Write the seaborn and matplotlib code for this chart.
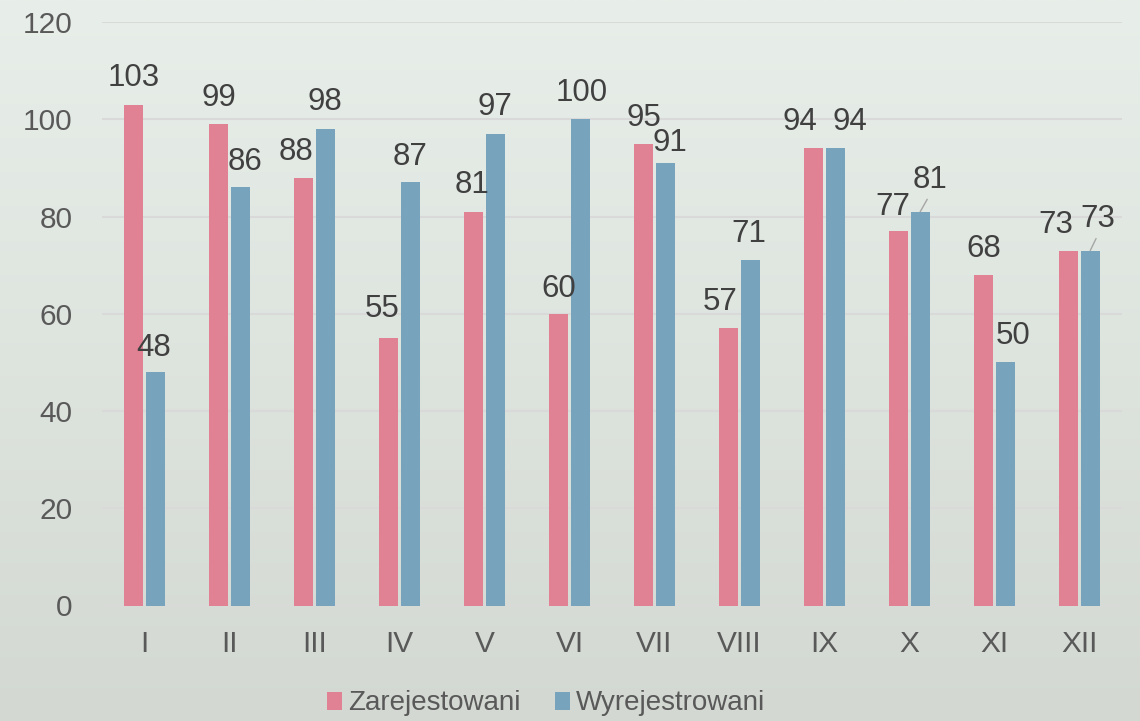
import numpy as np
import pandas as pd
import matplotlib
matplotlib.use("Agg")
import matplotlib.pyplot as plt
import seaborn as sns
from matplotlib.colors import LinearSegmentedColormap
from matplotlib.patches import Patch

# ---- data ----
months = ["I", "II", "III", "IV", "V", "VI", "VII", "VIII", "IX", "X", "XI", "XII"]
zarejestowani = [103, 99, 88, 55, 81, 60, 95, 57, 94, 77, 68, 73]
wyrejestrowani = [48, 86, 98, 87, 97, 100, 91, 71, 94, 81, 50, 73]
series_names = ["Zarejestowani", "Wyrejestrowani"]
y_ticks = [0, 20, 40, 60, 80, 100, 120]

# ---- styling ----
colors = {"Zarejestowani": "#E18294", "Wyrejestrowani": "#77A3BD"}
# label nudges in pixels (dx, height of label centre above bar top)
pink_offsets = [(0, 29.5), (0, 29), (-8, 29), (-7, 32), (-2, 30), (0, 28),
                (0, 29), (-9, 30), (-13.5, 29.7), (-5.5, 27), (0, 29), (-12.5, 29)]
blue_offsets = [(-1.5, 27), (5, 29), (0, 30), (0, 29), (0, 30), (1, 29),
                (4.5, 23.5), (-1.5, 29.6), (15, 29.7), (9.5, 35), (7.5, 29.6), (8, 34.7)]
leader = {1: [9, 11]}  # blue series: bars with leader lines

sns.set_theme(style="white")
plt.rcParams["font.family"] = ["Liberation Sans", "DejaVu Sans"]

W, H = 1140, 721
fig = plt.figure(figsize=(W / 100, H / 100), dpi=100)

bg = fig.add_axes([0, 0, 1, 1], zorder=-10)
grad = np.linspace(0, 1, 256).reshape(-1, 1)
cmap = LinearSegmentedColormap.from_list("bg", ["#E8EEE9", "#D3D9D2"])
bg.imshow(grad, aspect="auto", cmap=cmap, extent=[0, 1, 0, 1], origin="upper")
bg.axis("off")

ax = fig.add_axes([102 / W, 1 - 605.5 / H, 1020 / W, (605.5 - 22) / H])
ax.set_facecolor("none")

df = pd.DataFrame({
    "month": months * 2,
    "value": zarejestowani + wyrejestrowani,
    "series": [series_names[0]] * len(months) + [series_names[1]] * len(months),
})
sns.barplot(data=df, x="month", y="value", hue="series", order=months,
            hue_order=series_names, palette=colors, width=0.506, gap=0.116,
            saturation=1, linewidth=0, edgecolor="none", ax=ax, legend=False)

ax.set_xlim(-0.5, len(months) - 0.5)
ax.set_ylim(0, 120)
ax.set_yticks(y_ticks)
ax.set_xlabel("")
ax.set_ylabel("")
for s in ax.spines.values():
    s.set_visible(False)
ax.yaxis.grid(True, color="#D9D9D9", linewidth=1.5)
ax.xaxis.grid(False)
ax.set_axisbelow(True)
ax.tick_params(axis="y", length=0, pad=21, labelsize=21.5, labelcolor="#595959")
ax.tick_params(axis="x", length=0, pad=17.3, labelsize=21.5, labelcolor="#595959")

em = 22.5 * 100 / 72
for si, (cont, offs) in enumerate(zip(ax.containers, [pink_offsets, blue_offsets])):
    for bi, bar in enumerate(cont):
        x = bar.get_x() + bar.get_width() / 2
        y = bar.get_height()
        dx, dy = offs[bi]
        kw = {}
        if bi in leader.get(si, []):
            kw["arrowprops"] = dict(arrowstyle="-", color="#A6A6A6", lw=1,
                                    shrinkA=1, shrinkB=0, relpos=(0.5, 0))
        ax.annotate(f"{int(y)}", xy=(x, y), xytext=(dx, dy - 0.358 * em),
                    textcoords="offset pixels", ha="center", va="baseline",
                    fontsize=22.5, color="#404040", **kw)

handles = [Patch(facecolor=colors[n], edgecolor="none", label=n) for n in series_names]
fig.legend(handles=handles, loc="center", bbox_to_anchor=(546 / W, 1 - 703.5 / H),
           ncol=2, frameon=False, fontsize=20, handlelength=0.54, handleheight=0.61,
           handletextpad=0.2, columnspacing=1.25, labelcolor="#595959",
           borderpad=0, borderaxespad=0)

fig.savefig("out.png", dpi=100)
